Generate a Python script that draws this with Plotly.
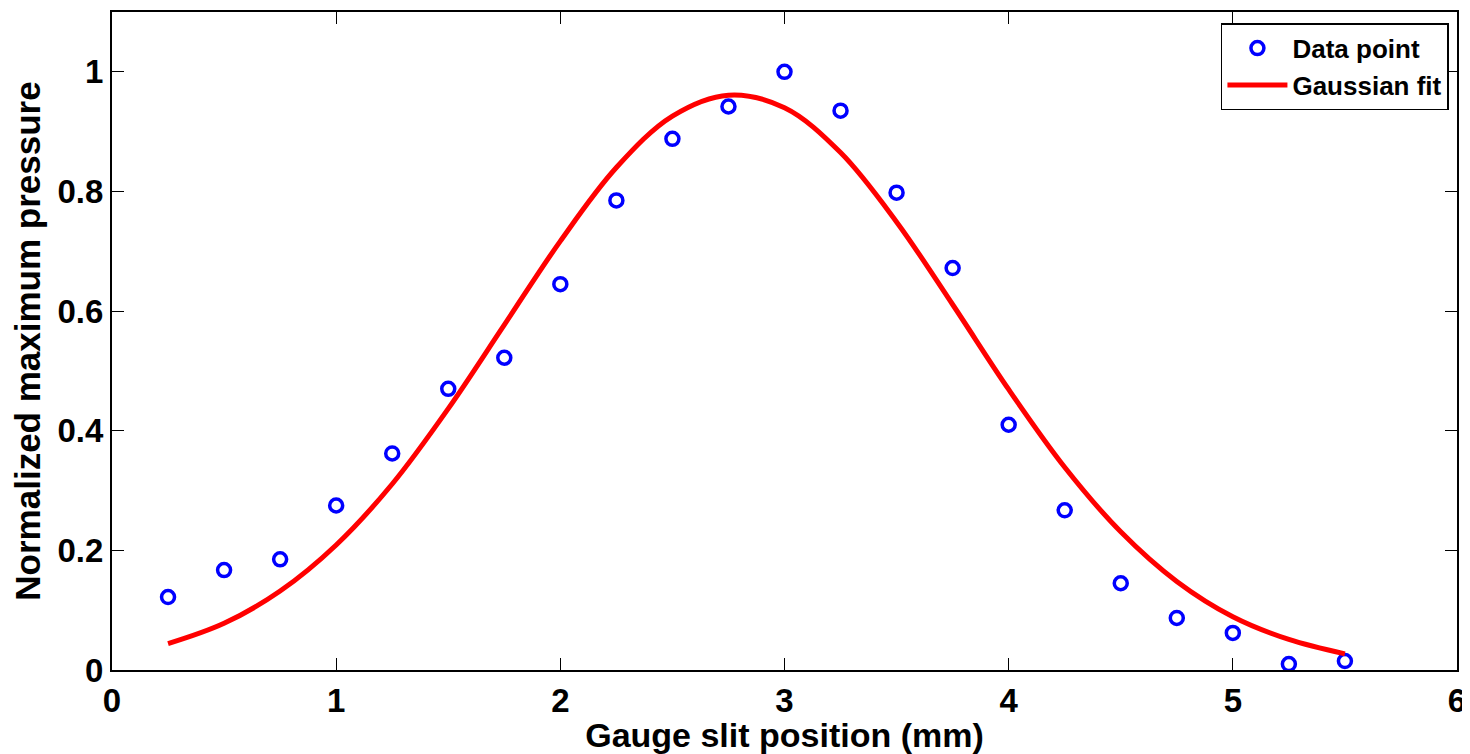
import plotly.graph_objects as go

x_data = [0.25, 0.5, 0.75, 1.0, 1.25, 1.5, 1.75, 2.0, 2.25, 2.5, 2.75, 3.0,
          3.25, 3.5, 3.75, 4.0, 4.25, 4.5, 4.75, 5.0, 5.25, 5.5]
y_data = [0.122, 0.167, 0.185, 0.275, 0.362, 0.470, 0.522, 0.645, 0.785, 0.888,
          0.942, 1.000, 0.935, 0.798, 0.672, 0.410, 0.267, 0.145, 0.087, 0.062,
          0.010, 0.015]

x_fit = [0.25, 0.5, 0.75, 1.0, 1.25, 1.5, 1.75, 2.0, 2.25, 2.5, 2.75, 3.0,
         3.25, 3.5, 3.75, 4.0, 4.25, 4.5, 4.75, 5.0, 5.25, 5.5]
y_fit = [0.044, 0.078, 0.132, 0.209, 0.311, 0.437, 0.577, 0.717, 0.840, 0.926,
         0.961, 0.940, 0.865, 0.749, 0.611, 0.469, 0.339, 0.231, 0.148, 0.089,
         0.051, 0.027]

x_ticks = [0, 1, 2, 3, 4, 5, 6]
y_ticks = [0, 0.2, 0.4, 0.6, 0.8, 1]
y_tick_text = ["0", "0.2", "0.4", "0.6", "0.8", "1"]

FONT = "Liberation Sans, Arial, sans-serif"

fig = go.Figure()
fig.add_trace(go.Scatter(
    x=x_data, y=y_data, mode="markers", name="Data point",
    marker=dict(symbol="circle-open", size=13, color="#0000ff",
                line=dict(width=3.5, color="#0000ff")),
))
fig.add_trace(go.Scatter(
    x=x_fit, y=y_fit, mode="lines", name="Gaussian fit",
    line=dict(color="#ff0000", width=5, shape="spline"),
))

axis_common = dict(
    showgrid=False, zeroline=False, showline=True, linecolor="black",
    linewidth=2, mirror="ticks", ticks="inside", ticklen=12, tickwidth=1,
    tickcolor="black",
    tickfont=dict(family=FONT, size=33, color="black", weight="bold"),
)

# page body has an 8px margin, so the figure is sized/offset to compensate
fig.update_layout(
    width=1462, height=746,
    paper_bgcolor="white", plot_bgcolor="white",
    margin=dict(l=104, r=13, t=2, b=84),
    xaxis=dict(range=[0, 6], tickvals=x_ticks, ticktext=[str(v) for v in x_ticks],
               title=dict(text="Gauge slit position (mm)", standoff=0,
                          font=dict(family=FONT, size=34, color="black", weight="bold")),
               **axis_common),
    yaxis=dict(range=[0, 1.1], tickvals=y_ticks, ticktext=y_tick_text,
               title=dict(text="Normalized maximum pressure", standoff=12,
                          font=dict(family=FONT, size=35, color="black", weight="bold")),
               **axis_common),
    legend=dict(x=0.994, y=0.983, xanchor="right", yanchor="top",
                bgcolor="white", bordercolor="black", borderwidth=1.5,
                font=dict(family=FONT, size=26, color="black", weight="bold"),
                itemwidth=60, tracegroupgap=0),
    showlegend=True,
)

fig.write_html("out.html")
